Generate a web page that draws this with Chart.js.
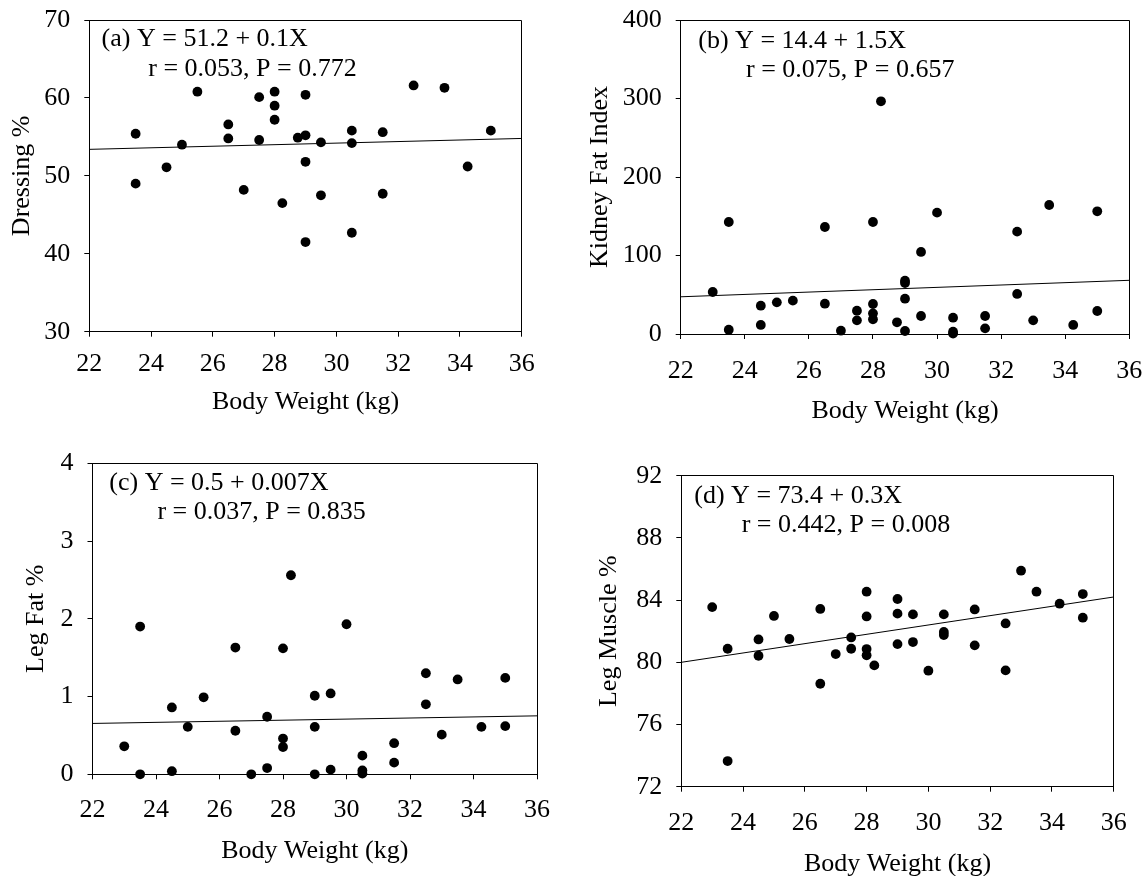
<!DOCTYPE html>
<html>
<head>
<meta charset="utf-8">
<title>Carcass traits against body weight</title>
<script src="https://cdn.jsdelivr.net/npm/chart.js@4.4.1/dist/chart.umd.min.js"></script>
<style>
  html, body { margin: 0; padding: 0; background: #fff; overflow: hidden; }
  #stage { position: relative; width: 1145px; height: 876px; overflow: hidden; }
  #stage canvas { position: absolute; left: 0; top: 0; }
</style>
</head>
<body>
<div id="stage">
  <canvas id="panelA" width="1145" height="900"></canvas>
  <canvas id="panelB" width="1145" height="900"></canvas>
  <canvas id="panelC" width="1145" height="900"></canvas>
  <canvas id="panelD" width="1145" height="900"></canvas>
</div>
<script>
// ---- data ----------------------------------------------------------------
// (a) dressing percentage
const weightA = [23.5, 23.5, 24.5, 25, 25.5, 26.5, 26.5, 27, 27.5, 27.5, 28, 28, 28, 28.25, 28.75,
                 29, 29, 29, 29, 29.5, 29.5, 30.5, 30.5, 30.5, 31.5, 31.5, 32.5, 33.5, 34.25, 35];
const dressing = [55.4, 49.0, 51.1, 54.0, 60.8, 56.6, 54.8, 48.2, 60.1, 54.6, 60.8, 59.0, 57.2, 46.5, 54.9,
                  60.4, 55.2, 51.8, 41.5, 54.3, 47.5, 55.8, 54.2, 42.7, 55.6, 47.7, 61.6, 61.3, 51.2, 55.8];

// (b) kidney fat index
const weightB = [23, 23.5, 23.5, 24.5, 24.5, 25, 25.5, 26.5, 26.5, 27, 27.5, 27.5, 28, 28, 28, 28, 28.25,
                 28.75, 29, 29, 29, 29, 29.5, 29.5, 30, 30.5, 30.5, 30.5, 31.5, 31.5, 32.5, 32.5, 33,
                 33.5, 34.25, 35, 35];
const kidneyFat = [53.5, 142.7, 5.5, 36.1, 11.5, 40.3, 42.5, 136.3, 38.6, 4.2, 29.7, 17.4, 142.7, 38.2, 26.3,
                   18.7, 296.4, 14.9, 67.9, 65.0, 45.0, 3.8, 104.5, 22.9, 154.6, 20.8, 3.0, 0.5, 22.9, 7.2,
                   130.4, 51.0, 17.4, 164.3, 11.5, 156.3, 29.3];

// (c) leg fat percentage
const weightC = [23, 23.5, 23.5, 24.5, 24.5, 25, 25.5, 26.5, 26.5, 27, 27.5, 27.5, 28, 28, 28, 28.25,
                 29, 29, 29, 29.5, 29.5, 30, 30.5, 30.5, 30.5, 31.5, 31.5, 32.5, 32.5, 33, 33.5, 34.25, 35, 35];
const legFat = [0.36, 1.90, 0.0, 0.86, 0.04, 0.61, 0.99, 1.63, 0.56, 0.0, 0.74, 0.08, 1.62, 0.46, 0.35, 2.56,
                1.01, 0.61, 0.0, 1.04, 0.06, 1.93, 0.24, 0.05, 0.01, 0.40, 0.15, 1.30, 0.90, 0.51, 1.22, 0.61,
                1.24, 0.62];

// (d) leg muscle percentage
const weightD = [23, 23.5, 23.5, 24.5, 24.5, 25, 25.5, 26.5, 26.5, 27, 27.5, 27.5, 28, 28, 28, 28, 28.25,
                 29, 29, 29, 29.5, 29.5, 30, 30.5, 30.5, 30.5, 31.5, 31.5, 32.5, 32.5, 33, 33.5, 34.25, 35, 35];
const legMuscle = [83.55, 80.87, 73.65, 81.47, 80.42, 82.98, 81.50, 83.43, 78.62, 80.53, 81.60, 80.87, 84.54,
                   82.95, 80.85, 80.45, 79.80, 84.07, 83.13, 81.17, 83.08, 81.30, 79.46, 83.08, 81.95, 81.75,
                   83.40, 81.09, 82.50, 79.48, 85.89, 84.54, 83.77, 84.39, 82.87];

// fitted regressions Y = intercept + slope * X, with their statistics
const panelLetters = ['a', 'b', 'c', 'd'];
const intercepts = [51.2, 14.4, 0.5, 73.4];
const slopes = [0.1, 1.5, 0.007, 0.3];
const rValues = [0.053, 0.075, 0.037, 0.442];
const pValues = [0.772, 0.657, 0.835, 0.008];

// axes
const xTitle = 'Body Weight (kg)';
const xLimits = [22, 36];
const xTickStep = 2;
const yTitles = ['Dressing %', 'Kidney Fat Index', 'Leg Fat %', 'Leg Muscle %'];
const yLimits = [[30, 70], [0, 400], [0, 4], [72, 92]];
const yTickSteps = [10, 100, 1, 4];

const weights = [weightA, weightB, weightC, weightD];
const traits = [dressing, kidneyFat, legFat, legMuscle];

// ---- page layout ---------------------------------------------------------
const CANVAS_W = 1145, CANVAS_H = 900;
const FONT_SIZE = 26;
const FONT_FAMILY = '"Times New Roman", "Liberation Serif", serif';
const HALF_LINE = FONT_SIZE * 1.2 / 2;

const panels = [
  { id: 'panelA', area: { left: 89.3, right: 521.7, top: 20, bottom: 331.7 },
    yTitleMid: 22, xTickPad: 12, xTitleGap: 60, note: { x1: 12.3, y1: 26, x2: 59, y2: 55.5 } },
  { id: 'panelB', area: { left: 680.7, right: 1129.3, top: 20, bottom: 334 },
    yTitleMid: 600.5, xTickPad: 17, xTitleGap: 67, note: { x1: 17.6, y1: 28.3, x2: 65.3, y2: 57.3 } },
  { id: 'panelC', area: { left: 92.5, right: 537, top: 463.3, bottom: 774.3 },
    yTitleMid: 36, xTickPad: 15, xTitleGap: 67, note: { x1: 16.8, y1: 26.7, x2: 64.9, y2: 56 } },
  { id: 'panelD', area: { left: 681.3, right: 1113.7, top: 475.7, bottom: 786.7 },
    yTitleMid: 609.5, xTickPad: 16, xTitleGap: 67, note: { x1: 13, y1: 27.6, x2: 60.4, y2: 56 } }
];

Chart.defaults.font.family = FONT_FAMILY;
Chart.defaults.font.size = FONT_SIZE;
Chart.defaults.color = '#000';

const alignPx = (v) => Math.round(v - 0.5) + 0.5;

// box around the plotting area (top and right edges; the axes give the others)
const framePlugin = {
  id: 'frame',
  beforeDatasetsDraw(chart) {
    const { left, right, top, bottom } = chart.chartArea;
    const ctx = chart.ctx;
    ctx.save();
    ctx.strokeStyle = '#000';
    ctx.lineWidth = 1;
    ctx.beginPath();
    ctx.moveTo(alignPx(left), alignPx(top));
    ctx.lineTo(alignPx(right), alignPx(top));
    ctx.lineTo(alignPx(right), alignPx(bottom));
    ctx.stroke();
    ctx.restore();
  }
};

// regression equation and statistics written inside the plot
const notePlugin = {
  id: 'note',
  afterDraw(chart, args, opts) {
    const { left, top } = chart.chartArea;
    const ctx = chart.ctx;
    ctx.save();
    ctx.font = `${FONT_SIZE}px ${FONT_FAMILY}`;
    ctx.fillStyle = '#000';
    ctx.textAlign = 'left';
    ctx.textBaseline = 'alphabetic';
    ctx.fillText(opts.line1, left + opts.x1, top + opts.y1);
    ctx.fillText(opts.line2, left + opts.x2, top + opts.y2);
    ctx.restore();
  }
};

panels.forEach((p, i) => {
  const a = intercepts[i], b = slopes[i];
  const points = weights[i].map((w, k) => ({ x: w, y: traits[i][k] }));
  const fit = xLimits.map((x) => ({ x: x, y: a + b * x }));

  const scaleLeft = p.yTitleMid - HALF_LINE;
  const yWidth = p.area.left - scaleLeft;
  const xHeight = p.xTitleGap + FONT_SIZE * 0.655 - FONT_SIZE * 0.263 + HALF_LINE;

  new Chart(document.getElementById(p.id), {
    type: 'scatter',
    data: {
      datasets: [
        {
          label: yTitles[i],
          data: points,
          order: 0,
          backgroundColor: '#000',
          borderColor: '#000',
          borderWidth: 0,
          pointRadius: 4.9,
          pointHoverRadius: 4.9,
          clip: false
        },
        {
          type: 'line',
          label: 'fit',
          data: fit,
          order: 1,
          showLine: true,
          borderColor: '#000',
          borderWidth: 1,
          pointRadius: 0,
          fill: false
        }
      ]
    },
    options: {
      responsive: false,
      animation: false,
      events: [],
      layout: {
        padding: {
          left: scaleLeft,
          top: p.area.top,
          right: CANVAS_W - p.area.right,
          bottom: CANVAS_H - (p.area.bottom + xHeight)
        }
      },
      plugins: {
        legend: { display: false },
        tooltip: { enabled: false },
        note: {
          line1: `(${panelLetters[i]}) Y = ${a} + ${b}X`,
          line2: `r = ${rValues[i].toFixed(3)}, P = ${pValues[i].toFixed(3)}`,
          x1: p.note.x1, y1: p.note.y1, x2: p.note.x2, y2: p.note.y2
        }
      },
      scales: {
        x: {
          type: 'linear',
          position: 'bottom',
          min: xLimits[0],
          max: xLimits[1],
          ticks: { stepSize: xTickStep, padding: p.xTickPad, maxRotation: 0, autoSkip: false, color: '#000' },
          grid: { drawOnChartArea: false, drawTicks: true, tickLength: 5, color: '#000', lineWidth: 1 },
          border: { display: true, color: '#000', width: 1 },
          title: { display: true, text: xTitle, padding: 0, color: '#000' },
          afterFit(scale) {
            scale.height = xHeight;
            scale.paddingLeft = 0;
            scale.paddingRight = 0;
          }
        },
        y: {
          type: 'linear',
          position: 'left',
          min: yLimits[i][0],
          max: yLimits[i][1],
          ticks: { stepSize: yTickSteps[i], padding: 14, color: '#000' },
          grid: { drawOnChartArea: false, drawTicks: true, tickLength: 5, color: '#000', lineWidth: 1 },
          border: { display: true, color: '#000', width: 1 },
          title: { display: true, text: yTitles[i], padding: 0, color: '#000' },
          afterFit(scale) {
            scale.width = yWidth;
            scale.paddingTop = 0;
            scale.paddingBottom = 0;
          }
        }
      }
    },
    plugins: [framePlugin, notePlugin]
  });
});
</script>
</body>
</html>
